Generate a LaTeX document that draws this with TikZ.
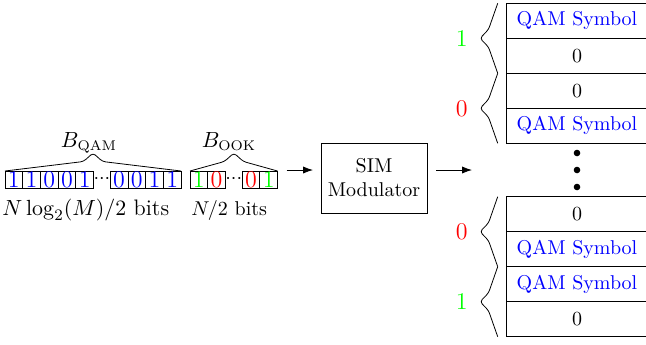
\documentclass[tikz,border=0pt]{standalone}
\usetikzlibrary{arrows.meta}
\begin{document}
\begin{tikzpicture}[x=0.5pt,y=-0.5pt,
  bitcell/.style={draw, minimum width=8.85pt, minimum height=8.5pt, inner sep=0pt, outer sep=0pt, anchor=west, font=\large},
  bitdots/.style={inner sep=0pt, outer sep=0pt, minimum width=8.35pt, minimum height=8.5pt, anchor=west},
  tcell/.style={draw, minimum width=70.3pt, minimum height=17.5pt, inner sep=0pt, outer sep=0pt, anchor=north},
  brc/.style={rounded corners=1.5pt},
  arr/.style={-{Latex[length=5pt,width=3.6pt]}},
  bigdot/.style={circle, fill, inner sep=0pt, minimum size=3.3pt}]
\useasboundingbox (0,0) rectangle (646,344);

% QAM bits
\node[bitcell,text=blue] (q1) at (5,179.5) {1};
\node[bitcell,text=blue] (q2) at (q1.east) {1};
\node[bitcell,text=blue] (q3) at (q2.east) {0};
\node[bitcell,text=blue] (q4) at (q3.east) {0};
\node[bitcell,text=blue] (q5) at (q4.east) {1};
\node[bitdots] (qd) at (q5.east) {${\cdotp}{\cdotp}{\cdotp}$};
\node[bitcell,text=blue] (q6) at (qd.east) {0};
\node[bitcell,text=blue] (q7) at (q6.east) {0};
\node[bitcell,text=blue] (q8) at (q7.east) {1};
\node[bitcell,text=blue] (q9) at (q8.east) {1};

% OOK bits
\node[bitcell,text=green] (o1) at (190,179.5) {1};
\node[bitcell,text=red] (o2) at (o1.east) {0};
\node[bitdots] (od) at (o2.east) {${\cdotp}{\cdotp}{\cdotp}$};
\node[bitcell,text=red] (o3) at (od.east) {0};
\node[bitcell,text=green] (o4) at (o3.east) {1};

% braces over bits
\draw[brc] (q1.north west) -- (83.5,161.5) -- (93,153) -- (102.5,161.5) -- (q9.north east);
\draw[brc] (o1.north west) -- (224.4,161.5) -- (233.9,153) -- (243.4,161.5) -- (o4.north east);

\node[anchor=base, font=\fontsize{10.5}{12}\selectfont] (bq) at (89,147.7) {$B_{\mathrm{QAM}}$};
\node[anchor=base, font=\fontsize{10.5}{12}\selectfont] (bo) at (229,147.7) {$B_{\mathrm{OOK}}$};
\node[anchor=base west, inner sep=0pt, font=\fontsize{11.2}{13}\selectfont] (nq) at (2,215) {$N\log_2(M)/2$ bits};
\node[anchor=base west, inner sep=0pt] (no) at (191,215) {$N/2$ bits};

% modulator
\node[draw, minimum width=53pt, minimum height=35pt, align=center, inner sep=0pt, outer sep=0pt] (sim) at (374,178) {SIM\\Modulator};
\coordinate (out) at (472,170);
\draw[arr] ([xshift=4.6pt,yshift=4.75pt]o4.east) -- ([xshift=-4pt,yshift=4pt]sim.west);
\draw[arr] ([xshift=4.5pt,yshift=4pt]sim.east) -- (out);

% table
\node[tcell,text=blue] (r1) at (577,3.3) {QAM Symbol};
\node[tcell] (r2) at (r1.south) {0};
\node[tcell] (r3) at (r2.south) {0};
\node[tcell,text=blue] (r4) at (r3.south) {QAM Symbol};
\node[bigdot] (d1) at (577,153) {};
\node[bigdot] (d2) at (577,170) {};
\node[bigdot] (d3) at (577,187) {};
\node[tcell] (r5) at (577,196.7) {0};
\node[tcell,text=blue] (r6) at (r5.south) {QAM Symbol};
\node[tcell,text=blue] (r7) at (r6.south) {QAM Symbol};
\node[tcell] (r8) at (r7.south) {0};

% right braces
\draw[brc] (497.7,3.3) -- (488.5,29.5) -- (480,38.3) -- (488.5,47) -- (497.7,73.3);
\draw[brc] (497.7,73.3) -- (488.5,99.5) -- (480,108.3) -- (488.5,117) -- (497.7,143.3);
\draw[brc] (497.7,196.7) -- (488.5,223) -- (480,231.7) -- (488.5,240.5) -- (497.7,266.7);
\draw[brc] (497.7,266.7) -- (488.5,293) -- (480,301.7) -- (488.5,310.5) -- (497.7,336.7);

\node[text=green, font=\large] (l1) at (461.7,38.3) {1};
\node[text=red, font=\large] (l2) at (461.7,108.3) {0};
\node[text=red, font=\large] (l3) at (461.7,231.7) {0};
\node[text=green, font=\large] (l4) at (461.7,301.7) {1};
\end{tikzpicture}
\end{document}
